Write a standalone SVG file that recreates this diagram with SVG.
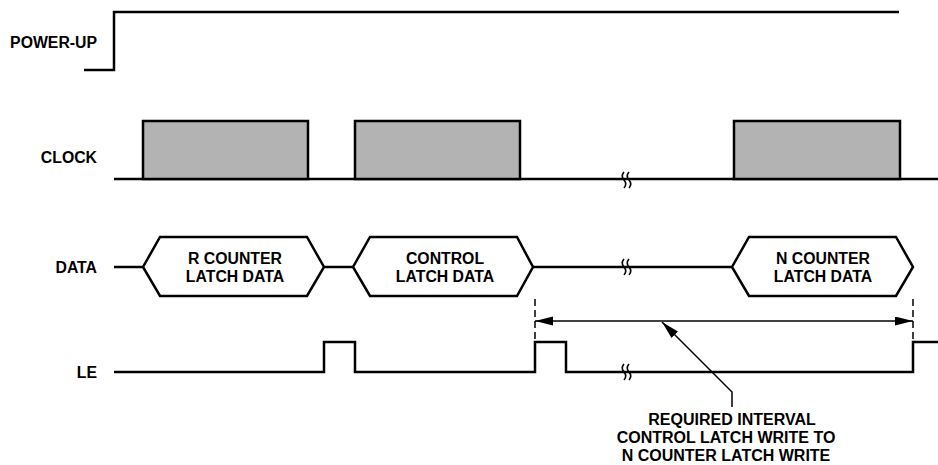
<svg xmlns="http://www.w3.org/2000/svg" width="938" height="465" viewBox="0 0 938 465">
<style>
  .sig{fill:none;stroke:#000;stroke-width:2.5;stroke-linejoin:miter;stroke-linecap:butt}
  .clk{fill:#b3b3b3;stroke:#000;stroke-width:2.5}
  .hex{fill:#fff;stroke:#000;stroke-width:2.5;stroke-linejoin:miter}
  .brk{fill:none;stroke:#000;stroke-width:1.6}
  .dash{fill:none;stroke:#000;stroke-width:1.5;stroke-dasharray:7 4}
  .thin{fill:none;stroke:#000;stroke-width:1.5}
  text{font-family:"Liberation Sans",Arial,sans-serif;font-weight:bold;font-size:15.8px;fill:#000}
  .lbl{text-anchor:end}
  .mid{text-anchor:middle}
</style>
<defs>
  <marker id="ah" markerWidth="20" markerHeight="10" refX="18" refY="4.5" orient="auto-start-reverse" markerUnits="userSpaceOnUse">
    <path d="M0,0 L18,4.5 L0,9 Z" fill="#000"/>
  </marker>
  <path id="brkmark" class="brk" d="M0,-8 q-3.5,4 0,8 q3.5,4 0,8 M5,-8 q-3.5,4 0,8 q3.5,4 0,8"/>
</defs>

<g id="power-up">
  <text class="lbl" x="97" y="48">POWER-UP</text>
  <path class="sig" d="M84,70 H114 V12 H899"/>
</g>

<g id="clock">
  <text class="lbl" x="97" y="163">CLOCK</text>
  <path class="sig" d="M114,179 H938"/>
  <rect class="clk" x="143" y="121" width="165" height="58"/>
  <rect class="clk" x="355" y="121" width="165" height="58"/>
  <rect class="clk" x="734" y="121" width="166" height="58"/>
  <use href="#brkmark" x="624" y="180"/>
</g>

<g id="data">
  <text class="lbl" x="97" y="273">DATA</text>
  <path class="sig" d="M114,267 H143 M324,267 H353 M533,267 H732"/>
  <use href="#brkmark" x="624" y="267"/>
  <g id="r-counter">
    <path class="hex" d="M143,267 L160,237 H307 L324,267 L307,296 H160 Z"/>
    <text class="mid" x="235" y="264">R COUNTER</text>
    <text class="mid" x="235" y="282">LATCH DATA</text>
  </g>
  <g id="control">
    <path class="hex" d="M353,267 L370,237 H517 L533,267 L517,296 H370 Z"/>
    <text class="mid" x="445" y="264">CONTROL</text>
    <text class="mid" x="445" y="282">LATCH DATA</text>
  </g>
  <g id="n-counter">
    <path class="hex" d="M732,267 L749,237 H896 L913,267 L896,296 H749 Z"/>
    <text class="mid" x="823" y="264">N COUNTER</text>
    <text class="mid" x="823" y="282">LATCH DATA</text>
  </g>
</g>

<g id="le">
  <text class="lbl" x="97" y="378">LE</text>
  <path class="sig" d="M114,372 H324 V342 H355 V372 H535 V342 H566 V372 H913 V342 H938"/>
  <use href="#brkmark" x="624" y="372"/>
</g>

<g id="connectors">
  <path class="dash" d="M535,299 V342"/>
  <path class="dash" d="M913,299 V342"/>
  <path class="thin" d="M535,321 H913" marker-start="url(#ah)" marker-end="url(#ah)"/>
  <path class="thin" d="M732,407 V392 L662,322" marker-end="url(#ah)"/>
</g>

<g id="interval-label">
  <text class="mid" x="732" y="425" style="font-size:16px">REQUIRED INTERVAL</text>
  <text class="mid" x="726" y="443" style="font-size:16px">CONTROL LATCH WRITE TO</text>
  <text class="mid" x="726" y="461" style="font-size:16px">N COUNTER LATCH WRITE</text>
</g>
</svg>
